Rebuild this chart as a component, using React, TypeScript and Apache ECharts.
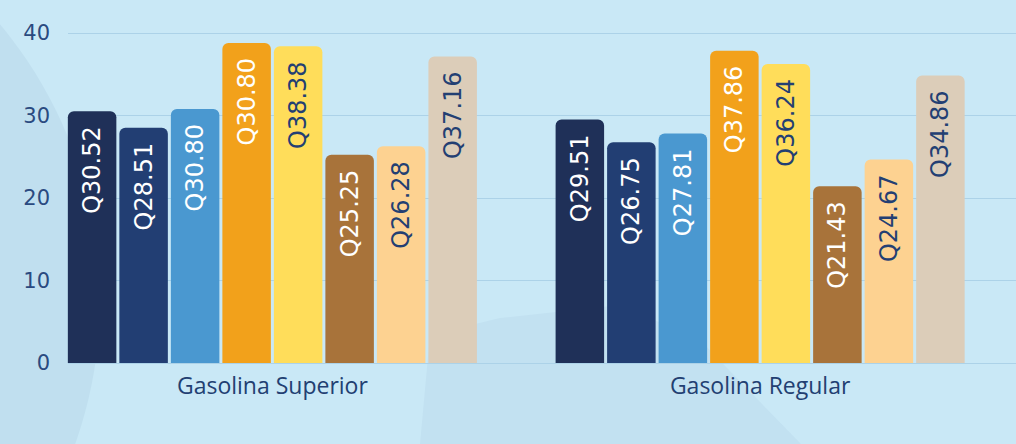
import React, { useEffect, useRef } from "react";
import * as echarts from "echarts";

// categorías y series
const categories = ["Gasolina Superior", "Gasolina Regular"];
const seriesNames = ["S1", "S2", "S3", "S4", "S5", "S6", "S7", "S8"];
// valor de cada barra por serie: [Superior, Regular]
const values = [
  [30.52, 29.51],
  [28.51, 26.75],
  [30.8, 27.81],
  [38.8, 37.86],
  [38.38, 36.24],
  [25.25, 21.43],
  [26.28, 24.67],
  [37.16, 34.86],
];
// texto que muestra cada barra
const barLabels = [
  ["Q30.52", "Q29.51"],
  ["Q28.51", "Q26.75"],
  ["Q30.80", "Q27.81"],
  ["Q30.80", "Q37.86"],
  ["Q38.38", "Q36.24"],
  ["Q25.25", "Q21.43"],
  ["Q26.28", "Q24.67"],
  ["Q37.16", "Q34.86"],
];
const yTicks = [0, 10, 20, 30, 40];

const colors = ["#1f3058", "#223e73", "#4a98d0", "#f2a11b", "#ffdd5a", "#a8733a", "#fdd291", "#dccdb9"];
const labelColors = ["#ffffff", "#ffffff", "#ffffff", "#ffffff", "#233f73", "#ffffff", "#233f73", "#233f73"];

const App: React.FC = () => {
  const chartRef = useRef<HTMLDivElement>(null);

  useEffect(() => {
    const chart = echarts.init(chartRef.current, null, { renderer: "svg" });
    const option: echarts.EChartsOption = {
      animation: false,
      backgroundColor: "#c9e8f6",
      // formas suaves del fondo
      graphic: [
        {
          type: "circle",
          z: -10,
          silent: true,
          shape: { cx: -330, cy: 300, r: 430 },
          style: { fill: "#c0dfef" },
        },
        {
          type: "polygon",
          z: -10,
          silent: true,
          shape: {
            points: [
              [420, 444],
              [430, 335],
              [500, 318],
              [620, 305],
              [700, 340],
              [728, 369],
              [801, 444],
            ],
          },
          style: { fill: "#c2e1f1" },
        },
      ],
      grid: [
        { left: 68, right: 0, top: 33, bottom: 81 },
        { left: 28.5, right: 12, top: 33, bottom: 81 },
      ],
      xAxis: [
        { type: "value", gridIndex: 0, show: false, min: 0, max: 1 },
        {
          type: "category",
          gridIndex: 1,
          data: categories,
          axisLine: { show: false },
          axisTick: { show: false },
          axisLabel: {
            margin: 10,
            color: "#223f72",
            fontSize: 23,
            fontFamily: "Open Sans",
          },
        },
      ],
      yAxis: [
        {
          type: "value",
          gridIndex: 0,
          min: yTicks[0],
          max: yTicks[yTicks.length - 1],
          interval: 10,
          axisLine: { show: false },
          axisTick: { show: false },
          axisLabel: {
            margin: 18,
            color: "#2a4a80",
            fontSize: 21,
            fontFamily: "DejaVu Sans",
          },
          splitLine: { lineStyle: { color: "#acd2e8", width: 1 } },
        },
        {
          type: "value",
          gridIndex: 1,
          min: 0,
          max: 40,
          interval: 10,
          show: false,
          splitLine: { show: false },
        },
      ],
      series: seriesNames.map((name, i) => ({
        name,
        type: "bar",
        xAxisIndex: 1,
        yAxisIndex: 1,
        barWidth: 48.5,
        barGap: "6.2%",
        data: values[i],
        itemStyle: { color: colors[i], borderRadius: [6, 6, 0, 0] },
        label: {
          show: true,
          position: "insideTop",
          rotate: 90,
          align: "right",
          verticalAlign: "middle",
          distance: 15,
          color: labelColors[i],
          fontSize: 24,
          fontFamily: "DejaVu Sans",
          formatter: (p: any) => barLabels[i][p.dataIndex],
        },
      })),
    };
    chart.setOption(option);
    return () => {
      chart.dispose();
    };
  }, []);

  return (
    <div
      ref={chartRef}
      style={{ position: "fixed", left: 0, top: 0, width: 1016, height: 444 }}
    />
  );
};

export default App;
